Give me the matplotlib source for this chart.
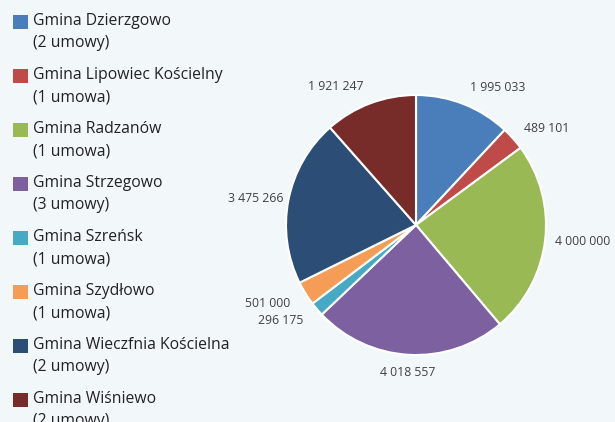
import matplotlib
matplotlib.use("Agg")
import matplotlib.pyplot as plt
import numpy as np
from matplotlib.patches import Rectangle

plt.rcParams['font.family'] = ['Open Sans', 'DejaVu Sans']

gminy = ["Gmina Dzierzgowo", "Gmina Lipowiec Kościelny", "Gmina Radzanów",
         "Gmina Strzegowo", "Gmina Szreńsk", "Gmina Szydłowo",
         "Gmina Wieczfnia Kościelna", "Gmina Wiśniewo"]
umowy = ["(2 umowy)", "(1 umowa)", "(1 umowa)", "(3 umowy)", "(1 umowa)",
         "(1 umowa)", "(2 umowy)", "(2 umowy)"]
kwoty = [1995033, 489101, 4000000, 4018557, 296175, 501000, 3475266, 1921247]
kolory = ["#4a7ebb", "#be4b48", "#98b954", "#7d60a0", "#46aac5", "#f59d56",
          "#2c4d75", "#772c2a"]
odl_etykiet = [1.14, 1.11, 1.08, 1.14, 1.14, 1.14, 1.04, 1.14]

def fmt(v):
    return f"{v:,}".replace(",", " ")

W, H = 615, 422
fig = plt.figure(figsize=(W/100, H/100), dpi=100)
fig.patch.set_facecolor("#f2f7fa")

cx, cy, R = 416, 225, 130
half = 1.25 * R
ax = fig.add_axes([(cx - half)/W, (H - cy - half)/H, 2*half/W, 2*half/H])
ax.set_facecolor("none")
wedges, _ = ax.pie(kwoty, colors=kolory, startangle=90, counterclock=False,
                   wedgeprops=dict(edgecolor="white", linewidth=1.5))
ax.set_xlim(-1.25, 1.25)
ax.set_ylim(-1.25, 1.25)
ax.set_aspect("equal")
ax.axis("off")

for w, v, d in zip(wedges, kwoty, odl_etykiet):
    ang = np.deg2rad((w.theta1 + w.theta2) / 2)
    x, y = np.cos(ang), np.sin(ang)
    if abs(x) < 0.3:
        ha = "center"
    else:
        ha = "left" if x > 0 else "right"
    ax.text(d * x, d * y, fmt(v), ha=ha, va="center", fontsize=8.8,
            color="#404040", clip_on=False)

# legend
y0 = 21
step = 54
for i, (g, u, c) in enumerate(zip(gminy, umowy, kolory)):
    yc = y0 + i * step
    fig.patches.append(Rectangle((13/W, 1 - (yc + 8)/H), 15/W, 14/H,
                                 transform=fig.transFigure, facecolor=c,
                                 edgecolor="none"))
    fig.text(33/W, 1 - yc/H, g, ha="left", va="center", fontsize=11.3,
             color="#222222")
    fig.text(33/W, 1 - (yc + 22)/H, u, ha="left", va="center", fontsize=11.3,
             color="#222222")

fig.savefig("out.png", dpi=100, facecolor=fig.get_facecolor())
